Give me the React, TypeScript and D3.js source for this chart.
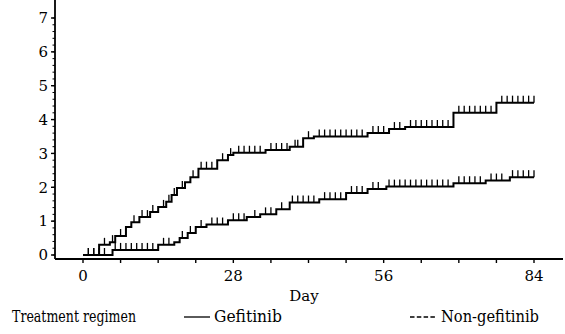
import { useRef, useEffect } from 'react';
import * as d3 from 'd3';

const W = 565;
const H = 334;

// Gefitinib: step times (day) and cumulative value after each step
const gefDays = [0, 3, 5, 6, 8, 9, 10.5, 12.5, 14, 15.5, 16.5, 17.5, 19, 20, 21.5, 25, 27, 28, 34, 38.5, 41, 43, 53, 57, 60, 69, 77];
const gefValues = [0, 0.3, 0.38, 0.56, 0.83, 0.97, 1.12, 1.27, 1.42, 1.57, 1.77, 1.98, 2.15, 2.3, 2.55, 2.8, 2.95, 3.02, 3.1, 3.2, 3.45, 3.5, 3.6, 3.72, 3.78, 4.2, 4.5];
const gefCensor = [1, 2, 4, 5.5, 7, 9.5, 11, 12, 13, 15, 16, 17, 18.5, 20.5, 22, 23, 24, 26, 27.5, 29, 30, 31, 32, 33, 35, 36, 37, 38, 39.5, 40, 42, 44, 45, 46, 47, 48, 49, 50, 51, 52, 54, 55, 56, 58, 59, 61, 62, 63, 64, 65, 66, 67, 68, 70, 71, 72, 73, 74, 75, 76, 78, 79, 80, 81, 82, 83, 84];

// Non-gefitinib
const nonDays = [0, 5.5, 14, 17, 18, 19.5, 21, 23, 27, 30.5, 33, 36, 38.5, 44, 49, 53, 56.5, 69, 75, 79.5];
const nonValues = [0, 0.15, 0.3, 0.38, 0.5, 0.65, 0.83, 0.9, 1.03, 1.12, 1.2, 1.35, 1.55, 1.65, 1.83, 1.95, 2.02, 2.12, 2.2, 2.3];
const nonCensor = [1, 2, 3, 4, 6, 7, 8, 9, 10, 11, 12, 13, 15, 16, 18.5, 20, 22, 24, 25, 26, 28, 29, 30, 32, 34, 35, 37, 39, 40, 41, 42, 43, 45, 46, 47, 48, 50, 51, 52, 54, 55, 57, 58, 59, 60, 61, 62, 63, 64, 65, 66, 67, 68, 70, 71, 72, 73, 74, 76, 77, 78, 80, 81, 82, 83, 84];

const xTicks = [0, 7, 14, 21, 28, 35, 42, 49, 56, 63, 70, 77, 84];
const xLabels = [0, 28, 56, 84];
const yLabels = [0, 1, 2, 3, 4, 5, 6, 7];
const END_DAY = 84;

const FONT = "'DejaVu Serif', serif";

export default function App() {
  const svgRef = useRef<SVGSVGElement>(null);

  useEffect(() => {
    const root = d3.select(svgRef.current);
    root.selectAll('*').remove();
    const svg = root.append('g').style('font-family', FONT);

    const x = d3.scaleLinear().domain([0, 84]).range([83, 534]);
    const y = d3.scaleLinear().domain([0, 7]).range([255, 18]);
    const axisX = 55;
    const axisY = 259;

    svg.append('rect').attr('width', W).attr('height', H).attr('fill', '#fff');

    // Y axis
    svg
      .append('line')
      .attr('x1', axisX)
      .attr('y1', 0)
      .attr('x2', axisX)
      .attr('y2', axisY)
      .attr('stroke', '#000')
      .attr('stroke-width', 1.8);
    y.ticks(37).forEach((t) => {
      svg
        .append('line')
        .attr('x1', axisX - 2.5)
        .attr('x2', axisX)
        .attr('y1', y(t))
        .attr('y2', y(t))
        .attr('stroke', '#000')
        .attr('stroke-width', 1);
    });
    yLabels.forEach((t) => {
      svg
        .append('line')
        .attr('x1', axisX - 4)
        .attr('x2', axisX)
        .attr('y1', y(t))
        .attr('y2', y(t))
        .attr('stroke', '#000')
        .attr('stroke-width', 1.4);
      svg
        .append('text')
        .attr('x', axisX - 7)
        .attr('y', y(t))
        .attr('dy', '0.35em')
        .attr('text-anchor', 'end')
        .style('font-size', '15px')
        .text(t);
    });

    // X axis
    svg
      .append('line')
      .attr('x1', axisX)
      .attr('y1', axisY)
      .attr('x2', 563)
      .attr('y2', axisY)
      .attr('stroke', '#000')
      .attr('stroke-width', 1.8);
    xTicks.forEach((t) => {
      svg
        .append('line')
        .attr('x1', x(t))
        .attr('x2', x(t))
        .attr('y1', axisY)
        .attr('y2', axisY + 4)
        .attr('stroke', '#000')
        .attr('stroke-width', 1.4);
    });
    xLabels.forEach((t) => {
      svg
        .append('text')
        .attr('x', x(t))
        .attr('y', 281)
        .attr('text-anchor', 'middle')
        .style('font-size', '15px')
        .text(t);
    });
    svg
      .append('text')
      .attr('x', 304)
      .attr('y', 301)
      .attr('text-anchor', 'middle')
      .style('font-size', '15px')
      .text('Day');

    // Step curves with censor ticks
    const drawSeries = (days: number[], values: number[], censor: number[]) => {
      const pts: [number, number][] = days.map((d, i) => [d, values[i]]);
      pts.push([END_DAY, values[values.length - 1]]);
      const line = d3
        .line<[number, number]>()
        .x((d) => x(d[0]))
        .y((d) => y(d[1]))
        .curve(d3.curveStepAfter);
      svg
        .append('path')
        .attr('d', line(pts))
        .attr('fill', 'none')
        .attr('stroke', '#000')
        .attr('stroke-width', 2);
      censor.forEach((c) => {
        const idx = Math.max(0, d3.bisectRight(days, c) - 1);
        const v = values[idx];
        svg
          .append('line')
          .attr('x1', x(c))
          .attr('x2', x(c))
          .attr('y1', y(v))
          .attr('y2', y(v) - 7)
          .attr('stroke', '#000')
          .attr('stroke-width', 1.3);
      });
    };
    drawSeries(gefDays, gefValues, gefCensor);
    drawSeries(nonDays, nonValues, nonCensor);

    // Legend
    const ly = 322;
    const legendText = (tx: number, len: number, label: string) =>
      svg
        .append('text')
        .attr('x', tx)
        .attr('y', ly)
        .style('font-size', '16px')
        .attr('textLength', len)
        .attr('lengthAdjust', 'spacingAndGlyphs')
        .text(label);
    legendText(12, 124, 'Treatment regimen');
    svg
      .append('line')
      .attr('x1', 184)
      .attr('x2', 210)
      .attr('y1', ly - 5)
      .attr('y2', ly - 5)
      .attr('stroke', '#000')
      .attr('stroke-width', 1.3);
    legendText(214, 68, 'Gefitinib');
    svg
      .append('line')
      .attr('x1', 410)
      .attr('x2', 437)
      .attr('y1', ly - 5)
      .attr('y2', ly - 5)
      .attr('stroke', '#000')
      .attr('stroke-width', 1.3)
      .attr('stroke-dasharray', '4.5,2.3');
    legendText(441, 98, 'Non-gefitinib');
  }, []);

  return (
    <svg
      ref={svgRef}
      width={W}
      height={H}
      style={{ position: 'absolute', left: 0, top: 0 }}
    />
  );
}
